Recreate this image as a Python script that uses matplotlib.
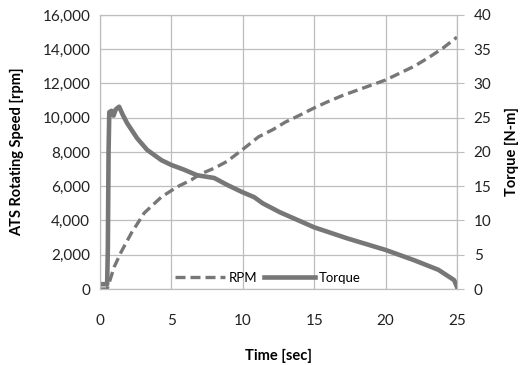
import numpy as np
import matplotlib
matplotlib.use("Agg")
from matplotlib import pyplot as plt

# RPM curve
rpm_t = [0.0, 0.5, 0.77, 1.0, 1.48, 2.2, 3.1, 4.3, 5.4, 6.4, 7.0, 8.0, 8.9, 10.0,
         11.1, 12.1, 13.0, 14.0, 15.0, 16.0, 17.0, 18.0, 19.0, 20.0, 21.0, 22.0, 23.0, 24.0, 25.0]
rpm = [0, 0, 700, 1300, 2160, 3270, 4440, 5370, 5960, 6370, 6700, 7050, 7450, 8150,
       8880, 9300, 9750, 10150, 10570, 10950, 11300, 11600, 11900, 12200, 12600, 13000, 13500, 14050, 14700]

# Torque curve
tq_t = [0.0, 0.5, 0.55, 0.6, 0.65, 0.8, 0.95, 1.1, 1.34, 1.6, 1.9, 2.6, 3.3, 4.3, 5.0, 5.9, 6.8,
        8.0, 8.9, 9.9, 10.8, 11.4, 12.6, 15.0, 17.3, 20.0, 22.0, 23.7, 24.8, 25.0]
torque = [0.7, 0.7, 6.0, 20.0, 25.8, 26.0, 25.3, 26.2, 26.6, 25.4, 24.2, 22.0, 20.3, 18.8, 18.1,
          17.4, 16.6, 16.2, 15.2, 14.2, 13.4, 12.5, 11.2, 9.0, 7.4, 5.7, 4.2, 2.8, 1.3, 0.3]

grey = '#777777'
plt.rcParams['font.family'] = ['Lato', 'DejaVu Sans']

fig = plt.figure(figsize=(5.2, 3.65), dpi=100)
ax = fig.add_axes([0.1923, 0.2082, 0.6865, 0.751])
ax2 = ax.twinx()

l1, = ax.plot(rpm_t, rpm, color=grey, lw=2.4, ls=(0, (3, 1.5)), label='RPM')
l2, = ax2.plot(tq_t, torque, color=grey, lw=3.3, label='Torque')

ax.set_xlim(0, 25)
ax.set_ylim(0, 16000)
ax2.set_ylim(0, 40)
ax.set_xticks([0, 5, 10, 15, 20, 25])
ax.set_yticks(np.arange(0, 16001, 2000))
ax2.set_yticks(np.arange(0, 41, 5))
ax.set_yticklabels([f'{v:,}' for v in range(0, 16001, 2000)])

ax.grid(True, color='#bdbdbd', lw=0.9)
ax.set_axisbelow(True)
for a in (ax, ax2):
    for s in a.spines.values():
        s.set_color('#bdbdbd')
ax.tick_params(axis='both', length=0, labelsize=11, colors='#222222', pad=7)
ax.tick_params(axis='x', pad=18)
ax2.tick_params(axis='y', length=5, color='#bdbdbd', labelsize=11, colors='#222222', pad=7)

ax.set_xlabel('Time [sec]', fontsize=10.5, fontweight='bold', labelpad=15)
ax.set_ylabel('ATS Rotating Speed [rpm]', fontsize=10.5, fontweight='bold', labelpad=13)
ax2.set_ylabel('Torque [N-m]', fontsize=10.5, fontweight='bold', labelpad=10)

ax.legend(handles=[l1, l2], loc='lower center', bbox_to_anchor=(0.47, -0.025), ncol=2, frameon=False,
          fontsize=9.5, handlelength=3.8, columnspacing=0.5, handletextpad=0.3)

fig.savefig('out.png', dpi=100)
